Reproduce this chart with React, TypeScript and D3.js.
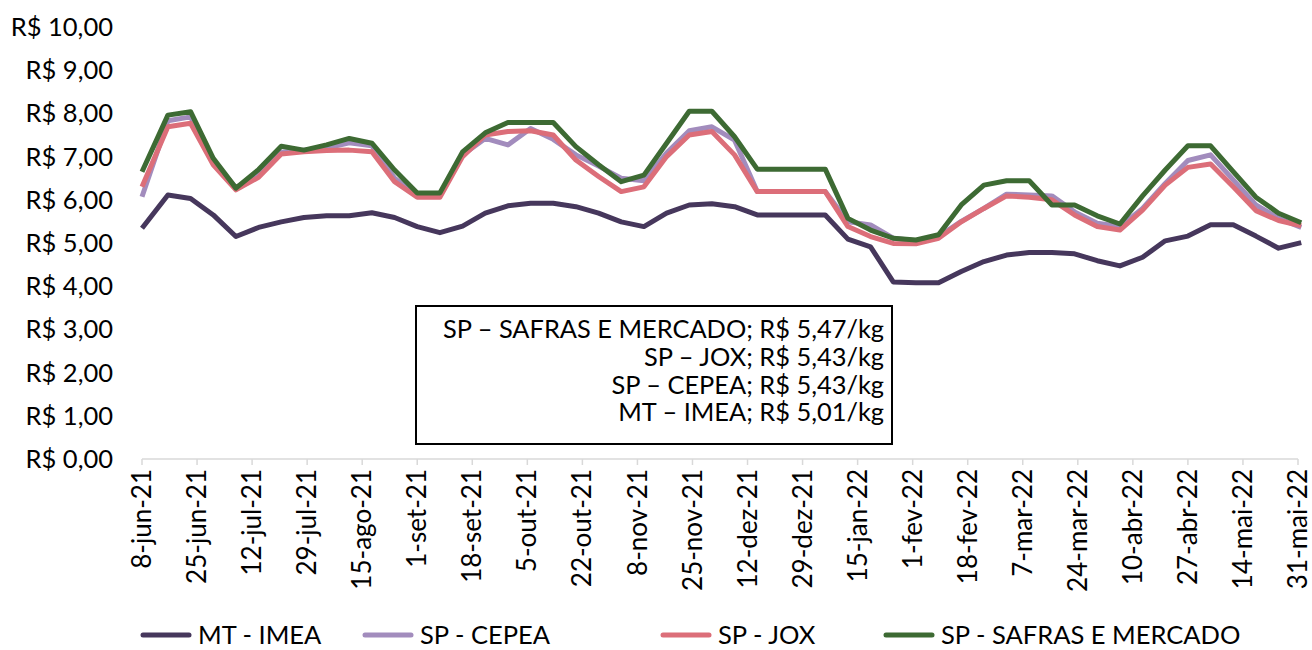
import React, { useEffect, useRef } from 'react';
import * as d3 from 'd3';

// weekly price of live hog (R$/kg), 8-jun-21 .. 31-mai-22
const firstDate = '2021-06-08';
const weeklyStart = '2021-06-16';

const mtImea = [
  5.34, 6.11, 6.03, 5.65, 5.15, 5.36, 5.49, 5.59, 5.63, 5.63, 5.70, 5.59, 5.38,
  5.24, 5.39, 5.69, 5.86, 5.92, 5.92, 5.84, 5.69, 5.49, 5.38, 5.69, 5.88, 5.91,
  5.84, 5.65, 5.65, 5.65, 5.65, 5.09, 4.91, 4.10, 4.08, 4.08, 4.34, 4.57, 4.72,
  4.78, 4.78, 4.75, 4.59, 4.47, 4.67, 5.05, 5.16, 5.42, 5.42, 5.16, 4.88, 5.01,
];
const spCepea = [
  6.07, 7.83, 7.92, 6.90, 6.28, 6.60, 7.10, 7.15, 7.20, 7.32, 7.25, 6.50, 6.10,
  6.10, 7.04, 7.42, 7.27, 7.65, 7.40, 7.04, 6.78, 6.50, 6.44, 7.08, 7.60, 7.69,
  7.38, 6.19, 6.19, 6.19, 6.19, 5.49, 5.42, 5.11, 5.05, 5.15, 5.50, 5.80, 6.13,
  6.11, 6.09, 5.72, 5.46, 5.38, 5.80, 6.38, 6.91, 7.04, 6.46, 5.88, 5.57, 5.36,
];
const spJox = [
  6.30, 7.69, 7.77, 6.81, 6.23, 6.52, 7.06, 7.11, 7.14, 7.15, 7.11, 6.42, 6.06,
  6.06, 7.00, 7.50, 7.58, 7.60, 7.50, 6.92, 6.54, 6.19, 6.30, 7.00, 7.50, 7.58,
  7.04, 6.19, 6.19, 6.19, 6.19, 5.38, 5.15, 4.99, 4.98, 5.11, 5.49, 5.80, 6.09,
  6.06, 6.00, 5.65, 5.38, 5.30, 5.76, 6.34, 6.75, 6.83, 6.30, 5.75, 5.52, 5.40,
];
const spSafras = [
  6.65, 7.96, 8.04, 6.96, 6.27, 6.70, 7.24, 7.15, 7.27, 7.42, 7.31, 6.69, 6.16,
  6.16, 7.11, 7.55, 7.79, 7.79, 7.79, 7.23, 6.81, 6.42, 6.57, 7.31, 8.05, 8.05,
  7.46, 6.71, 6.71, 6.71, 6.71, 5.57, 5.30, 5.11, 5.07, 5.19, 5.88, 6.34, 6.44,
  6.44, 5.88, 5.88, 5.63, 5.44, 6.09, 6.69, 7.25, 7.25, 6.65, 6.06, 5.69, 5.47,
];

const seriesNames = ['MT - IMEA', 'SP - CEPEA', 'SP - JOX', 'SP - SAFRAS E MERCADO'];
const seriesColors = ['#46375c', '#a28cbd', '#dc6e79', '#3d6a33'];

const yTicks = [0, 1, 2, 3, 4, 5, 6, 7, 8, 9, 10];
const xTickLabels = [
  '8-jun-21', '25-jun-21', '12-jul-21', '29-jul-21', '15-ago-21', '1-set-21',
  '18-set-21', '5-out-21', '22-out-21', '8-nov-21', '25-nov-21', '12-dez-21',
  '29-dez-21', '15-jan-22', '1-fev-22', '18-fev-22', '7-mar-22', '24-mar-22',
  '10-abr-22', '27-abr-22', '14-mai-22', '31-mai-22',
];
const boxLines = [
  'SP – SAFRAS E MERCADO; R$ 5,47/kg',
  'SP – JOX; R$ 5,43/kg',
  'SP – CEPEA; R$ 5,43/kg',
  'MT – IMEA; R$ 5,01/kg',
];

const App = () => {
  const svgRef = useRef<SVGSVGElement>(null);
  const width = 1312;
  const height = 650;
  const font = 'Lato, sans-serif';

  useEffect(() => {
    const svg = d3.select(svgRef.current);
    svg.selectAll('*').remove();

    const parse = d3.utcParse('%Y-%m-%d');
    const d0 = parse(firstDate)!;
    const w0 = parse(weeklyStart)!;
    const dates = mtImea.map((_, i) => (i === 0 ? d0 : d3.utcDay.offset(w0, 7 * (i - 1))));
    const tickDates = xTickLabels.map((_, i) => d3.utcDay.offset(d0, 17 * i));

    const x = d3.scaleUtc()
      .domain([d0, tickDates[tickDates.length - 1]])
      .range([142, 1298]);
    const y = d3.scaleLinear().domain([0, 10]).range([459, 27]);

    // y labels
    svg.append('g')
      .selectAll('text')
      .data(yTicks)
      .join('text')
      .attr('x', 113)
      .attr('y', d => y(d))
      .attr('dy', '0.35em')
      .attr('text-anchor', 'end')
      .attr('font-family', font)
      .attr('font-size', 25.5)
      .attr('fill', '#000')
      .text(d => `R$ ${d3.format('.2f')(d).replace('.', ',')}`);

    // x axis
    const xAxis = svg.append('g').attr('transform', 'translate(0,459)');
    xAxis.append('line')
      .attr('x1', 142).attr('x2', 1298)
      .attr('stroke', '#d9d9d9').attr('stroke-width', 1.5);
    xAxis.selectAll('line.tick')
      .data(tickDates)
      .join('line')
      .attr('class', 'tick')
      .attr('x1', d => x(d)).attr('x2', d => x(d))
      .attr('y1', 0).attr('y2', 6)
      .attr('stroke', '#d9d9d9').attr('stroke-width', 1.5);
    xAxis.selectAll('text')
      .data(tickDates)
      .join('text')
      .attr('transform', d => `translate(${x(d)},10) rotate(-90)`)
      .attr('dy', '0.35em')
      .attr('text-anchor', 'end')
      .attr('font-family', font)
      .attr('font-size', 26)
      .attr('fill', '#000')
      .text((_, i) => xTickLabels[i]);

    // lines
    const all = [mtImea, spCepea, spJox, spSafras];
    const line = d3.line<number>()
      .x((_, i) => x(dates[i]))
      .y(d => y(d));
    svg.append('g')
      .selectAll('path')
      .data(all)
      .join('path')
      .attr('d', d => line(d))
      .attr('fill', 'none')
      .attr('stroke', (_, i) => seriesColors[i])
      .attr('stroke-width', 5)
      .attr('stroke-linejoin', 'round');

    // annotation box
    const box = svg.append('g');
    box.append('rect')
      .attr('x', 416).attr('y', 306)
      .attr('width', 476).attr('height', 138)
      .attr('fill', '#fff').attr('stroke', '#000').attr('stroke-width', 2);
    box.selectAll('text')
      .data(boxLines)
      .join('text')
      .attr('x', 884)
      .attr('y', (_, i) => 338 + i * 27.8)
      .attr('text-anchor', 'end')
      .attr('font-family', font)
      .attr('font-size', 25.4)
      .attr('fill', '#000')
      .text(d => d);

    // legend
    const legendX = [143, 365, 663, 886];
    const lg = svg.append('g')
      .selectAll('g')
      .data(seriesNames)
      .join('g')
      .attr('transform', (_, i) => `translate(${legendX[i]},635)`);
    lg.append('line')
      .attr('x1', 0).attr('x2', 46)
      .attr('stroke', (_, i) => seriesColors[i])
      .attr('stroke-width', 5)
      .attr('stroke-linecap', 'round');
    lg.append('text')
      .attr('x', 55)
      .attr('dy', '0.35em')
      .attr('font-family', font)
      .attr('font-size', 25.5)
      .attr('fill', '#000')
      .text(d => d);
  }, []);

  return (
    <div style={{ position: 'absolute', left: 0, top: 0 }}>
      <svg ref={svgRef} width={width} height={height} style={{ display: 'block', background: '#fff' }} />
    </div>
  );
};

export default App;
